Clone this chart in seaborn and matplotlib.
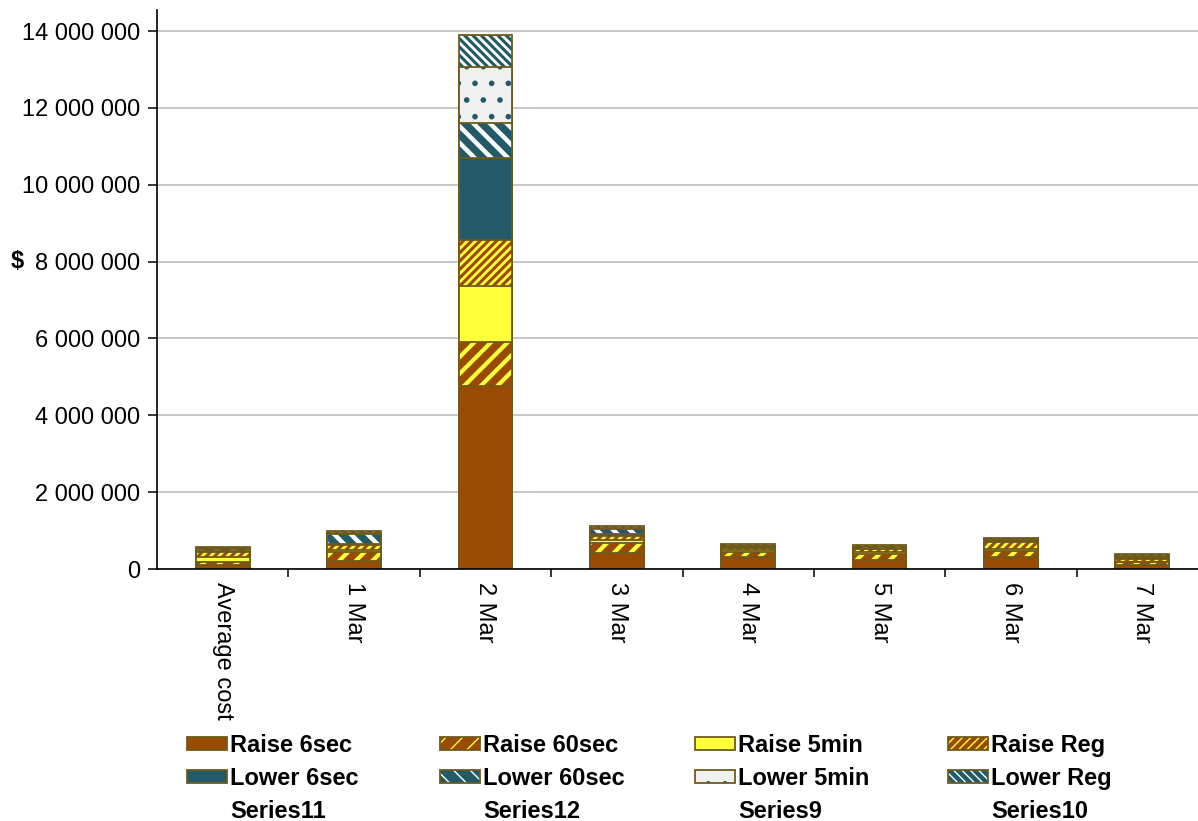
import numpy as np
import matplotlib
matplotlib.use("Agg")
import matplotlib.pyplot as plt
from matplotlib.patches import Patch
from matplotlib.legend_handler import HandlerTuple
from matplotlib.ticker import FuncFormatter, FixedLocator
import seaborn as sns

# ---- data (cost in $) ----
days = ["Average cost", "1 Mar", "2 Mar", "3 Mar", "4 Mar", "5 Mar", "6 Mar", "7 Mar"]
raise_6sec = [100000, 220000, 4770000, 410000, 320000, 230000, 320000, 100000]
raise_60sec = [90000, 230000, 1150000, 270000, 130000, 160000, 150000, 70000]
raise_5min = [130000, 50000, 1450000, 70000, 40000, 40000, 40000, 20000]
raise_reg = [130000, 130000, 1200000, 110000, 50000, 80000, 200000, 70000]
lower_6sec = [30000, 20000, 2120000, 50000, 20000, 20000, 30000, 20000]
lower_60sec = [40000, 260000, 920000, 140000, 40000, 40000, 20000, 40000]
lower_5min = [20000, 20000, 1450000, 20000, 10000, 10000, 10000, 10000]
lower_reg = [30000, 60000, 830000, 50000, 40000, 40000, 30000, 50000]
series9 = [0, 0, 0, 0, 0, 0, 0, 0]
series10 = [0, 0, 0, 0, 0, 0, 0, 0]
series11 = [0, 0, 0, 0, 0, 0, 0, 0]
series12 = [0, 0, 0, 0, 0, 0, 0, 0]
y_ticks = [0, 2000000, 4000000, 6000000, 8000000, 10000000, 12000000, 14000000]

# ---- styling ----
sns.set_theme(style="ticks")
plt.rcParams["font.family"] = ["Liberation Sans", "DejaVu Sans"]
plt.rcParams.update({"text.color": "black", "axes.labelcolor": "black",
                     "xtick.color": "black", "ytick.color": "black"})

BROWN = "#994A04"
YELLOW = "#FFFF3A"
TEAL = "#225A6A"
PALE = "#F0F0F0"
WHITE = "#FFFFFF"
EDGE = "#6E5A1A"
FS = 17

# name, values, face colour, hatch, hatch colour, hatch width
layers = [
    ("Raise 6sec", raise_6sec, BROWN, None, BROWN, 1.0),
    ("Raise 60sec", raise_60sec, BROWN, "//", YELLOW, 3.0),
    ("Raise 5min", raise_5min, YELLOW, None, YELLOW, 1.0),
    ("Raise Reg", raise_reg, BROWN, "////", YELLOW, 2.0),
    ("Lower 6sec", lower_6sec, TEAL, None, TEAL, 1.0),
    ("Lower 60sec", lower_60sec, TEAL, "\\\\", WHITE, 3.2),
    ("Lower 5min", lower_5min, PALE, ".", TEAL, 1.6),
    ("Lower Reg", lower_reg, TEAL, "\\\\\\\\", WHITE, 2.0),
]
blank_series = [("Series11", series11), ("Series12", series12),
                ("Series9", series9), ("Series10", series10)]

W, H = 1198, 821
fig = plt.figure(figsize=(W / 100, H / 100), dpi=100)
ax = fig.add_axes([157 / W, 252 / H, 1051 / W, 559 / H])


def set_hlw(patches, lw):
    for p in patches:
        if hasattr(p, "set_hatch_linewidth"):
            p.set_hatch_linewidth(lw)


# stacked bars: draw running totals from the top layer down
cum = np.cumsum(np.array([l[1] for l in layers], dtype=float), axis=0)
BAR_W = 0.41
for i in reversed(range(len(layers))):
    name, vals, face, hatch, hcol, hlw = layers[i]
    n0 = len(ax.patches)
    with plt.rc_context({"hatch.linewidth": hlw}):
        sns.barplot(x=days, y=cum[i], order=days, color=face, saturation=1,
                    width=BAR_W, edgecolor=hcol, linewidth=0, hatch=hatch,
                    errorbar=None, ax=ax)
    set_hlw(ax.patches[n0:], hlw)
    sns.barplot(x=days, y=cum[i], order=days, color=EDGE, saturation=1,
                width=BAR_W, fill=False, linewidth=1.3, errorbar=None, ax=ax)

# ---- axes ----
ax.set_xlim(-0.5, 7.5)
ax.set_ylim(0, 14.55e6)
ax.set_xlabel("")
ax.set_axisbelow(True)
ax.yaxis.grid(True, color="#C4C4C4", linewidth=1.3)
ax.xaxis.grid(False)
for s in ("top", "right"):
    ax.spines[s].set_visible(False)
for s in ("left", "bottom"):
    ax.spines[s].set_linewidth(1.2)
    ax.spines[s].set_color("black")

ax.yaxis.set_major_locator(FixedLocator(y_ticks))
ax.yaxis.set_major_formatter(FuncFormatter(lambda v, p: f"{int(round(v)):,}".replace(",", " ")))
ax.tick_params(axis="y", length=6.5, width=1.1, color="black", pad=5.5, labelsize=FS,
               labelcolor="black")

ax.set_xticks(range(len(days)))
ax.set_xticklabels(days, rotation=270, fontsize=FS, ha="center", va="top")
ax.tick_params(axis="x", which="major", length=0, pad=9, labelcolor="black")
ax.xaxis.set_minor_locator(FixedLocator([k + 0.5 for k in range(len(days) - 1)]))
ax.tick_params(axis="x", which="minor", length=5.5, width=1.1, color="black")

ax.set_ylabel("$", rotation=0, fontsize=FS, fontweight="bold", color="black")
ax.yaxis.set_label_coords(-0.1327, 0.55)
ax.yaxis.label.set_va("center")
ax.yaxis.label.set_ha("center")

# ---- legend: four columns, each raise / lower / spare series ----
def make_handle(face, hatch, hcol, hlw):
    with plt.rc_context({"hatch.linewidth": hlw}):
        base = Patch(facecolor=face, edgecolor=hcol, hatch=hatch, linewidth=0)
    set_hlw([base], hlw)
    outline = Patch(facecolor="none", edgecolor=EDGE, linewidth=1.3)
    return (base, outline)


col_x = [187, 440, 695, 948]
for k in range(4):
    r = layers[k]
    lo = layers[k + 4]
    handles = [make_handle(r[2], r[3], r[4], r[5]),
               make_handle(lo[2], lo[3], lo[4], lo[5]),
               Patch(facecolor="none", edgecolor="none")]
    labels = [r[0], lo[0], blank_series[k][0]]
    leg = fig.legend(handles, labels, loc="upper left",
                     bbox_to_anchor=(col_x[k] / W, 1 - 734 / H),
                     bbox_transform=fig.transFigure, frameon=False,
                     borderpad=0, borderaxespad=0, handlelength=1.7,
                     handleheight=0.5, handletextpad=0.13, labelspacing=0.42,
                     prop={"weight": "bold", "size": FS},
                     handler_map={tuple: HandlerTuple(ndivide=1, pad=0)})
    for t in leg.get_texts():
        t.set_color("black")

fig.savefig("out.png", dpi=100)
